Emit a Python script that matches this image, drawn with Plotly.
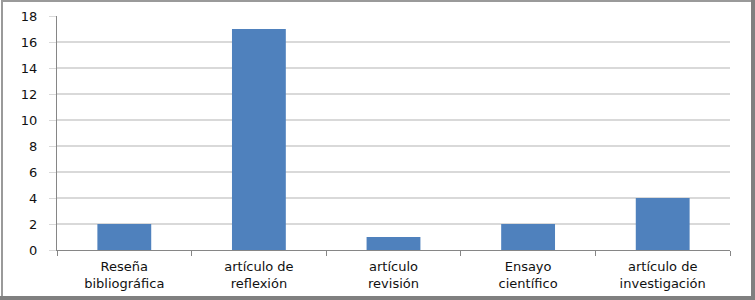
import plotly.graph_objects as go

categories = ["Reseña<br>bibliográfica", "artículo de<br>reflexión", "artículo<br>revisión",
              "Ensayo<br>científico", "artículo de<br>investigación"]
values = [2, 17, 1, 2, 4]
y_ticks = [0, 2, 4, 6, 8, 10, 12, 14, 16, 18]

W, H = 755, 300
L, R, T, B = 57, 25, 16, 50
pw, ph = W - L - R, H - T - B

fig = go.Figure(go.Bar(x=categories, y=values, marker_color="#4F81BD", marker_line_width=0))

def px(x):
    return (x - L) / pw

def py(y):
    return (H - B - y) / ph

shapes = [
    dict(type="line", xref="paper", yref="paper", x0=px(2), x1=px(2), y0=py(0), y1=py(298), line=dict(color="#9a9a9a", width=2)),
    dict(type="line", xref="paper", yref="paper", x0=px(1), x1=px(754), y0=py(1), y1=py(1), line=dict(color="#9a9a9a", width=2)),
    dict(type="line", xref="paper", yref="paper", x0=px(753), x1=px(753), y0=py(0), y1=py(300), line=dict(color="#808080", width=4)),
    dict(type="line", xref="paper", yref="paper", x0=px(0), x1=px(755), y0=py(298), y1=py(298), line=dict(color="#808080", width=4)),
]

fig.update_layout(
    width=W, height=H,
    margin=dict(l=L, r=R, t=T, b=B, autoexpand=False),
    paper_bgcolor="white", plot_bgcolor="white",
    bargap=0.6,
    showlegend=False,
    font=dict(family="DejaVu Sans", size=13, color="#111111"),
    shapes=shapes,
    xaxis=dict(
        type="category", tickson="boundaries", ticks="outside", ticklen=5,
        tickcolor="#868686", showline=True, linecolor="#868686", linewidth=1,
        showgrid=False, automargin=False, tickfont=dict(size=13),
        ticklabelstandoff=4,
    ),
    yaxis=dict(
        range=[0, 18], tickvals=y_ticks, ticks="outside", ticklen=7,
        tickcolor="#d9d9d9", showline=True, linecolor="#868686", linewidth=1,
        showgrid=True, gridcolor="#d9d9d9", gridwidth=1.5, zeroline=False,
        ticklabelstandoff=9, tickfont=dict(size=13), automargin=False,
    ),
)

fig.write_html("out.html", config={"displayModeBar": False},
               post_script="document.body.style.margin='0';document.body.style.padding='0';")
